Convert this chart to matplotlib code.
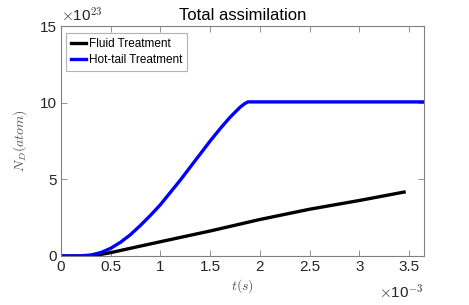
import matplotlib
matplotlib.use("Agg")
import matplotlib.pyplot as plt

# time in units of 1e-3 s, N_D in units of 1e23 atoms
t_hot = [0, 0.1, 0.2, 0.3, 0.4, 0.5, 0.6, 0.7, 0.8, 0.9, 1.0, 1.1, 1.2, 1.3, 1.4,
         1.5, 1.6, 1.7, 1.8, 1.85, 1.88, 3.65]
n_hot = [0, 0.0, 0.01, 0.06, 0.22, 0.5, 0.9, 1.4, 2.0, 2.65, 3.35, 4.15, 4.95, 5.8,
         6.65, 7.5, 8.3, 9.05, 9.7, 9.95, 10.05, 10.05]
t_fluid = [0, 0.2, 0.3, 0.4, 0.5, 1.0, 1.5, 2.0, 2.5, 3.0, 3.45]
n_fluid = [0, 0.0, 0.03, 0.1, 0.22, 0.93, 1.63, 2.38, 3.05, 3.62, 4.17]

plt.rcParams['font.family'] = ['Liberation Sans', 'DejaVu Sans']
plt.rcParams['mathtext.fontset'] = 'cm'

fig = plt.figure(figsize=(4.69, 3.05), dpi=100)
ax = fig.add_axes([0.130, 0.1607, 0.774, 0.754])

ax.plot(t_fluid, n_fluid, color='black', lw=2.4, label='Fluid Treatment')
ax.plot(t_hot, n_hot, color='#0000ff', lw=2.4, label='Hot-tail Treatment')

ax.set_xlim(0, 3.65)
ax.set_ylim(0, 15)
ax.set_xticks([0, 0.5, 1, 1.5, 2, 2.5, 3, 3.5])
ax.set_xticklabels(['0', '0.5', '1', '1.5', '2', '2.5', '3', '3.5'])
ax.set_yticks([0, 5, 10, 15])
ax.set_yticklabels(['0', '5', '10', '15'])

for s in ax.spines.values():
    s.set_color('#808080')
    s.set_linewidth(0.8)
ax.tick_params(direction='in', length=4, width=0.6, color='#808080',
               top=True, right=True, labelsize=11, labelcolor='#262626', pad=3)

ax.set_title('Total assimilation', fontsize=12, color='black', pad=4)
ax.set_xlabel(r'$t(s)$', fontsize=10, color='#555555', labelpad=2)
ax.set_ylabel(r'$N_D(atom)$', fontsize=10, color='#555555', labelpad=8)

ax.text(0.0, 1.005, r'$\times$10$^{23}$', transform=ax.transAxes, fontsize=11,
        color='#262626', ha='left', va='bottom')
ax.text(1.0, -0.12, r'$\times$10$^{-3}$', transform=ax.transAxes, fontsize=11,
        color='#262626', ha='right', va='top')

leg = ax.legend(loc='upper left', fontsize=8.5, handlelength=1.3, handletextpad=0.2,
                borderpad=0.4, labelspacing=0.4, fancybox=False,
                bbox_to_anchor=(0.005, 0.985), borderaxespad=0.3)
leg.get_frame().set_edgecolor('#a0a0a0')
leg.get_frame().set_linewidth(0.8)

fig.savefig('out.png', dpi=100)
